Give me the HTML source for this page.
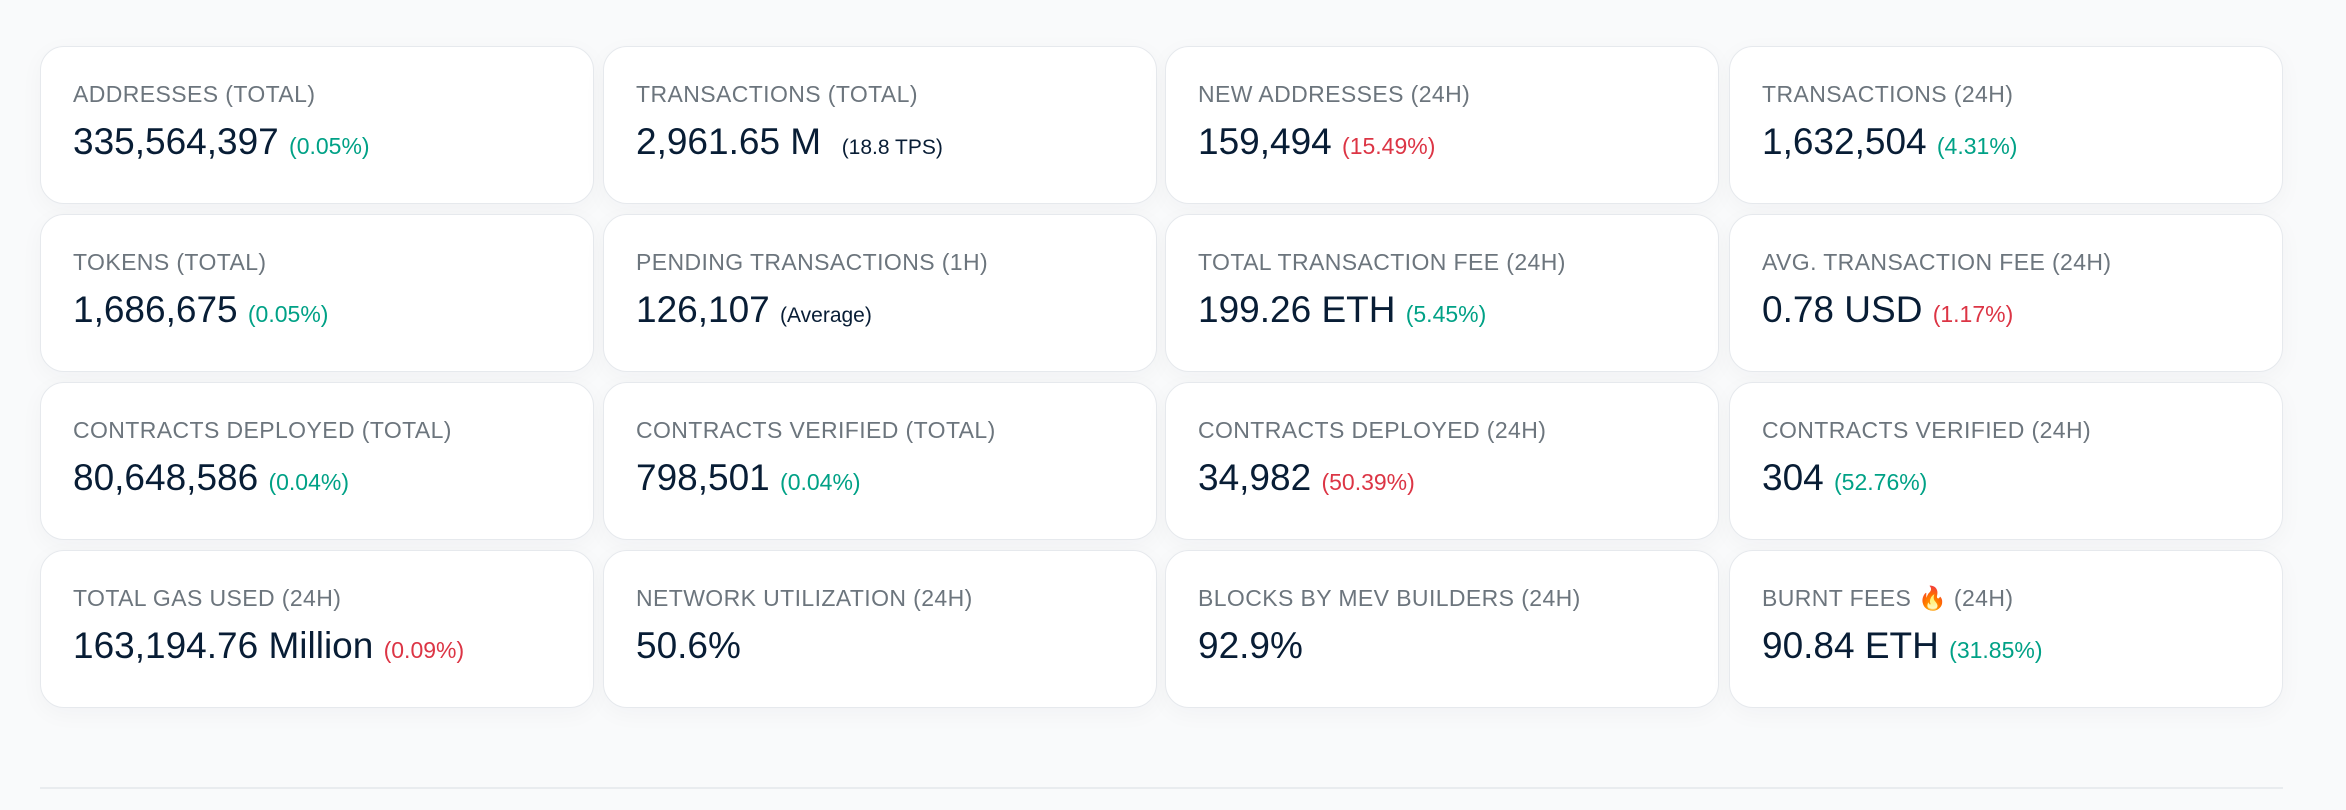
<!DOCTYPE html>
<html><head><meta charset="utf-8"><style>
html,body{margin:0;padding:0}
body{width:2346px;height:810px;background:#f9fafb;position:relative;overflow:hidden;font-family:"Liberation Sans",Arial,sans-serif}
.c{position:absolute;width:552px;height:156px;background:#fff;border:1.5px solid #e6e9ed;border-radius:24px;box-shadow:0 6px 24px rgba(20,30,60,0.035)}
.l{position:absolute;left:32px;top:33px;font-size:23px;line-height:28px;color:#6c757d;white-space:nowrap;letter-spacing:0.4px}
.v{position:absolute;left:32px;top:73px;font-size:37px;line-height:44px;color:#081d35;white-space:nowrap}
.g{color:#00a186;font-size:23px}
.r{color:#dc3545;font-size:23px}
.s{font-size:21px;color:#081d35}
.hr{position:absolute;left:40px;top:787px;width:2243px;height:2px;background:#e9ecef}
</style></head><body>
<div class="c" style="left:40px;top:46px"><div class="l">ADDRESSES (TOTAL)</div><div class="v">335,564,397 <span class="g">(0.05%)</span></div></div>
<div class="c" style="left:603px;top:46px"><div class="l">TRANSACTIONS (TOTAL)</div><div class="v">2,961.65 M &nbsp;<span class="s">(18.8 TPS)</span></div></div>
<div class="c" style="left:1165px;top:46px"><div class="l">NEW ADDRESSES (24H)</div><div class="v">159,494 <span class="r">(15.49%)</span></div></div>
<div class="c" style="left:1729px;top:46px"><div class="l">TRANSACTIONS (24H)</div><div class="v">1,632,504 <span class="g">(4.31%)</span></div></div>

<div class="c" style="left:40px;top:214px"><div class="l">TOKENS (TOTAL)</div><div class="v">1,686,675 <span class="g">(0.05%)</span></div></div>
<div class="c" style="left:603px;top:214px"><div class="l">PENDING TRANSACTIONS (1H)</div><div class="v">126,107 <span class="s">(Average)</span></div></div>
<div class="c" style="left:1165px;top:214px"><div class="l">TOTAL TRANSACTION FEE (24H)</div><div class="v">199.26 ETH <span class="g">(5.45%)</span></div></div>
<div class="c" style="left:1729px;top:214px"><div class="l">AVG. TRANSACTION FEE (24H)</div><div class="v">0.78 USD <span class="r">(1.17%)</span></div></div>

<div class="c" style="left:40px;top:382px"><div class="l">CONTRACTS DEPLOYED (TOTAL)</div><div class="v">80,648,586 <span class="g">(0.04%)</span></div></div>
<div class="c" style="left:603px;top:382px"><div class="l">CONTRACTS VERIFIED (TOTAL)</div><div class="v">798,501 <span class="g">(0.04%)</span></div></div>
<div class="c" style="left:1165px;top:382px"><div class="l">CONTRACTS DEPLOYED (24H)</div><div class="v">34,982 <span class="r">(50.39%)</span></div></div>
<div class="c" style="left:1729px;top:382px"><div class="l">CONTRACTS VERIFIED (24H)</div><div class="v">304 <span class="g">(52.76%)</span></div></div>

<div class="c" style="left:40px;top:550px"><div class="l">TOTAL GAS USED (24H)</div><div class="v">163,194.76 Million <span class="r">(0.09%)</span></div></div>
<div class="c" style="left:603px;top:550px"><div class="l">NETWORK UTILIZATION (24H)</div><div class="v">50.6%</div></div>
<div class="c" style="left:1165px;top:550px"><div class="l">BLOCKS BY MEV BUILDERS (24H)</div><div class="v">92.9%</div></div>
<div class="c" style="left:1729px;top:550px"><div class="l">BURNT FEES <span style="color:#f5590b">&#x1F525;</span> (24H)</div><div class="v">90.84 ETH <span class="g">(31.85%)</span></div></div>
<div class="hr"></div>
</body></html>
